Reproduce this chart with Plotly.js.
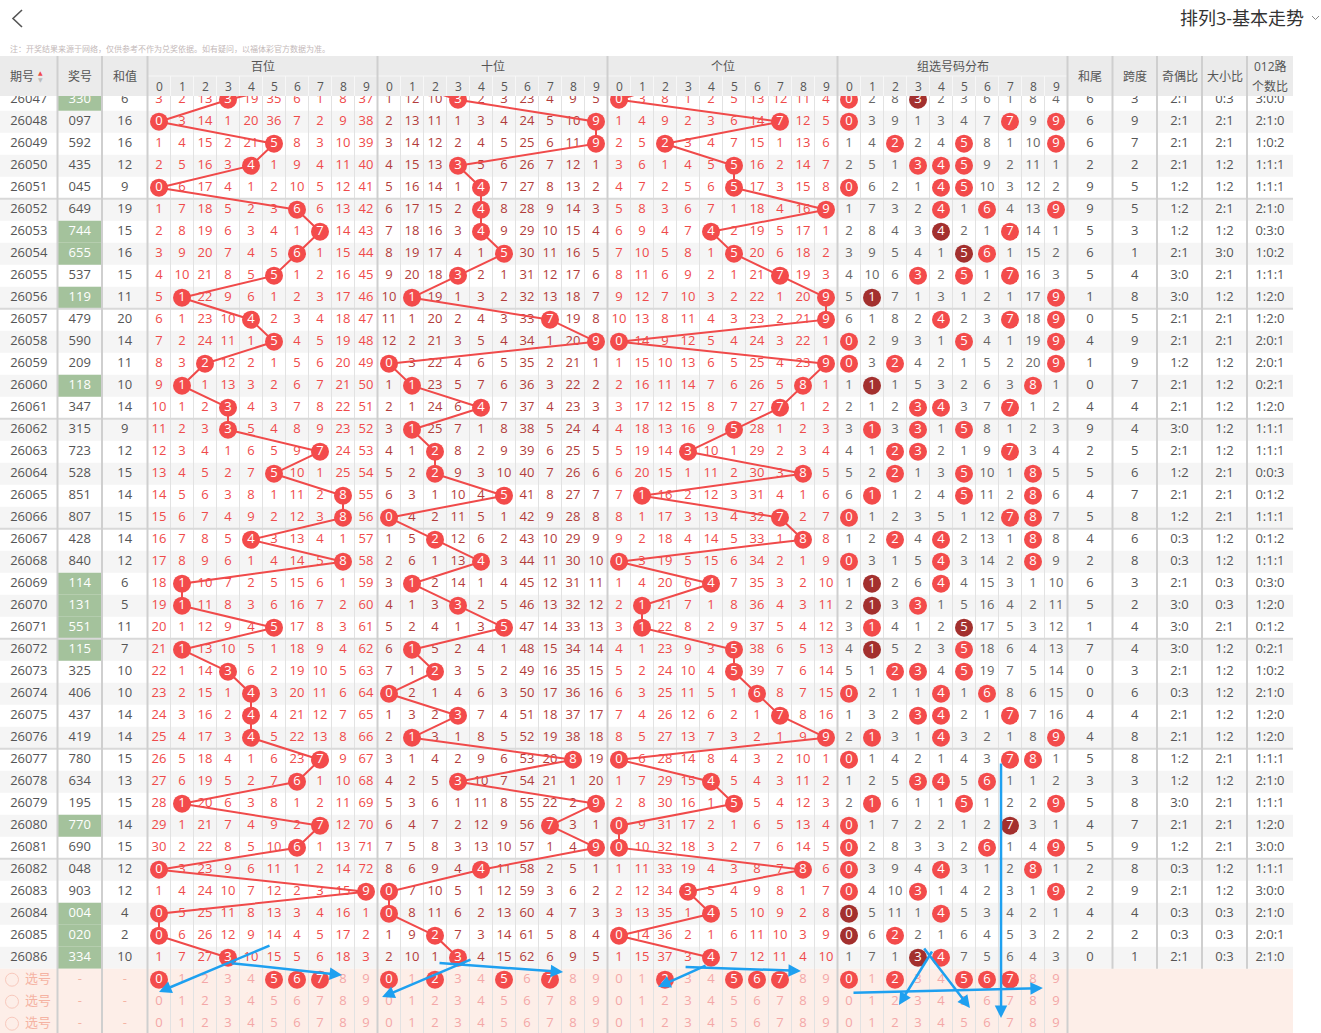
<!DOCTYPE html>
<html><head><meta charset="utf-8">
<script src="https://cdn.plot.ly/plotly-3.0.1.min.js"></script>
<style>html,body{margin:0;padding:0;background:#fff;overflow:hidden}#chart{width:1321px;height:1033px}</style>
</head><body><div id="chart"></div>
<script>
// ---------------- DATA ----------------
const periods=[26047,26048,26049,26050,26051,26052,26053,26054,26055,26056,26057,26058,26059,26060,26061,26062,26063,26064,26065,26066,26067,26068,26069,26070,26071,26072,26073,26074,26075,26076,26077,26078,26079,26080,26081,26082,26083,26084,26085,26086];
const draws=["330","097","592","435","045","649","744","655","537","119","479","590","209","118","347","315","723","528","851","807","428","840","114","131","551","115","325","406","437","419","780","634","195","770","690","048","903","004","020","334"];
const prevDraw="703";
const sums=[6,16,16,12,9,19,15,16,15,11,20,14,11,10,14,9,12,15,14,15,14,12,6,5,11,7,10,10,14,14,15,13,15,14,15,12,12,4,2,10];
const baiOmit=[
[3,2,13,0,19,35,6,1,8,37],[0,3,14,1,20,36,7,2,9,38],[1,4,15,2,21,0,8,3,10,39],[2,5,16,3,0,1,9,4,11,40],[0,6,17,4,1,2,10,5,12,41],
[1,7,18,5,2,3,0,6,13,42],[2,8,19,6,3,4,1,0,14,43],[3,9,20,7,4,5,0,1,15,44],[4,10,21,8,5,0,1,2,16,45],[5,0,22,9,6,1,2,3,17,46],
[6,1,23,10,0,2,3,4,18,47],[7,2,24,11,1,0,4,5,19,48],[8,3,0,12,2,1,5,6,20,49],[9,0,1,13,3,2,6,7,21,50],[10,1,2,0,4,3,7,8,22,51],
[11,2,3,0,5,4,8,9,23,52],[12,3,4,1,6,5,9,0,24,53],[13,4,5,2,7,0,10,1,25,54],[14,5,6,3,8,1,11,2,0,55],[15,6,7,4,9,2,12,3,0,56],
[16,7,8,5,0,3,13,4,1,57],[17,8,9,6,1,4,14,5,0,58],[18,0,10,7,2,5,15,6,1,59],[19,0,11,8,3,6,16,7,2,60],[20,1,12,9,4,0,17,8,3,61],
[21,0,13,10,5,1,18,9,4,62],[22,1,14,0,6,2,19,10,5,63],[23,2,15,1,0,3,20,11,6,64],[24,3,16,2,0,4,21,12,7,65],[25,4,17,3,0,5,22,13,8,66],
[26,5,18,4,1,6,23,0,9,67],[27,6,19,5,2,7,0,1,10,68],[28,0,20,6,3,8,1,2,11,69],[29,1,21,7,4,9,2,0,12,70],[30,2,22,8,5,10,0,1,13,71],
[0,3,23,9,6,11,1,2,14,72],[1,4,24,10,7,12,2,3,15,0],[0,5,25,11,8,13,3,4,16,1],[0,6,26,12,9,14,4,5,17,2],[1,7,27,0,10,15,5,6,18,3]];
const shiOmit=[
[1,12,10,0,2,3,23,4,9,5],[2,13,11,1,3,4,24,5,10,0],[3,14,12,2,4,5,25,6,11,0],[4,15,13,0,5,6,26,7,12,1],[5,16,14,1,0,7,27,8,13,2],
[6,17,15,2,0,8,28,9,14,3],[7,18,16,3,0,9,29,10,15,4],[8,19,17,4,1,0,30,11,16,5],[9,20,18,0,2,1,31,12,17,6],[10,0,19,1,3,2,32,13,18,7],
[11,1,20,2,4,3,33,0,19,8],[12,2,21,3,5,4,34,1,20,0],[0,3,22,4,6,5,35,2,21,1],[1,0,23,5,7,6,36,3,22,2],[2,1,24,6,0,7,37,4,23,3],
[3,0,25,7,1,8,38,5,24,4],[4,1,0,8,2,9,39,6,25,5],[5,2,0,9,3,10,40,7,26,6],[6,3,1,10,4,0,41,8,27,7],[0,4,2,11,5,1,42,9,28,8],
[1,5,0,12,6,2,43,10,29,9],[2,6,1,13,0,3,44,11,30,10],[3,0,2,14,1,4,45,12,31,11],[4,1,3,0,2,5,46,13,32,12],[5,2,4,1,3,0,47,14,33,13],
[6,0,5,2,4,1,48,15,34,14],[7,1,0,3,5,2,49,16,35,15],[0,2,1,4,6,3,50,17,36,16],[1,3,2,0,7,4,51,18,37,17],[2,0,3,1,8,5,52,19,38,18],
[3,1,4,2,9,6,53,20,0,19],[4,2,5,0,10,7,54,21,1,20],[5,3,6,1,11,8,55,22,2,0],[6,4,7,2,12,9,56,0,3,1],[7,5,8,3,13,10,57,1,4,0],
[8,6,9,4,0,11,58,2,5,1],[0,7,10,5,1,12,59,3,6,2],[0,8,11,6,2,13,60,4,7,3],[1,9,0,7,3,14,61,5,8,4],[2,10,1,0,4,15,62,6,9,5]];
const geOmit=[
[0,3,8,1,2,5,13,12,11,4],[1,4,9,2,3,6,14,0,12,5],[2,5,0,3,4,7,15,1,13,6],[3,6,1,4,5,0,16,2,14,7],[4,7,2,5,6,0,17,3,15,8],
[5,8,3,6,7,1,18,4,16,0],[6,9,4,7,0,2,19,5,17,1],[7,10,5,8,1,0,20,6,18,2],[8,11,6,9,2,1,21,0,19,3],[9,12,7,10,3,2,22,1,20,0],
[10,13,8,11,4,3,23,2,21,0],[0,14,9,12,5,4,24,3,22,1],[1,15,10,13,6,5,25,4,23,0],[2,16,11,14,7,6,26,5,0,1],[3,17,12,15,8,7,27,0,1,2],
[4,18,13,16,9,0,28,1,2,3],[5,19,14,0,10,1,29,2,3,4],[6,20,15,1,11,2,30,3,0,5],[7,0,16,2,12,3,31,4,1,6],[8,1,17,3,13,4,32,0,2,7],
[9,2,18,4,14,5,33,1,0,8],[0,3,19,5,15,6,34,2,1,9],[1,4,20,6,0,7,35,3,2,10],[2,0,21,7,1,8,36,4,3,11],[3,0,22,8,2,9,37,5,4,12],
[4,1,23,9,3,0,38,6,5,13],[5,2,24,10,4,0,39,7,6,14],[6,3,25,11,5,1,0,8,7,15],[7,4,26,12,6,2,1,0,8,16],[8,5,27,13,7,3,2,1,9,0],
[0,6,28,14,8,4,3,2,10,1],[1,7,29,15,0,5,4,3,11,2],[2,8,30,16,1,0,5,4,12,3],[0,9,31,17,2,1,6,5,13,4],[0,10,32,18,3,2,7,6,14,5],
[1,11,33,19,4,3,8,7,0,6],[2,12,34,0,5,4,9,8,1,7],[3,13,35,1,0,5,10,9,2,8],[0,14,36,2,1,6,11,10,3,9],[1,15,37,3,0,7,12,11,4,10]];
const zuOmit=[
[0,2,8,0,2,3,6,1,8,4],[0,3,9,1,3,4,7,0,9,0],[1,4,0,2,4,0,8,1,10,0],[2,5,1,0,0,0,9,2,11,1],[0,6,2,1,0,0,10,3,12,2],
[1,7,3,2,0,1,0,4,13,0],[2,8,4,3,0,2,1,0,14,1],[3,9,5,4,1,0,0,1,15,2],[4,10,6,0,2,0,1,0,16,3],[5,0,7,1,3,1,2,1,17,0],
[6,1,8,2,0,2,3,0,18,0],[0,2,9,3,1,0,4,1,19,0],[0,3,0,4,2,1,5,2,20,0],[1,0,1,5,3,2,6,3,0,1],[2,1,2,0,0,3,7,0,1,2],
[3,0,3,0,1,0,8,1,2,3],[4,1,0,0,2,1,9,0,3,4],[5,2,0,1,3,0,10,1,0,5],[6,0,1,2,4,0,11,2,0,6],[0,1,2,3,5,1,12,0,0,7],
[1,2,0,4,0,2,13,1,0,8],[0,3,1,5,0,3,14,2,0,9],[1,0,2,6,0,4,15,3,1,10],[2,0,3,0,1,5,16,4,2,11],[3,0,4,1,2,0,17,5,3,12],
[4,0,5,2,3,0,18,6,4,13],[5,1,0,0,4,0,19,7,5,14],[0,2,1,1,0,1,0,8,6,15],[1,3,2,0,0,2,1,0,7,16],[2,0,3,1,0,3,2,1,8,0],
[0,1,4,2,1,4,3,0,0,1],[1,2,5,0,0,5,0,1,1,2],[2,0,6,1,1,0,1,2,2,0],[0,1,7,2,2,1,2,0,3,1],[0,2,8,3,3,2,0,1,4,0],
[0,3,9,4,0,3,1,2,0,1],[0,4,10,0,1,4,2,3,1,0],[0,5,11,1,0,5,3,4,2,1],[0,6,0,2,1,6,4,5,3,2],[1,7,1,0,0,7,5,6,4,3]];
const sumTails=[6,6,6,2,9,9,5,6,5,1,0,4,1,0,4,9,2,5,4,5,4,2,6,5,1,7,0,0,4,4,5,3,5,4,5,2,2,4,2,0];
const spans=[3,9,7,2,5,5,3,1,4,8,5,9,9,7,4,4,5,6,7,8,6,8,3,2,4,4,3,6,4,8,8,3,8,7,9,8,9,4,2,1];
const oddEven=["2:1","2:1","2:1","2:1","1:2","1:2","1:2","2:1","3:0","3:0","2:1","2:1","1:2","2:1","2:1","3:0","2:1","1:2","2:1","1:2","0:3","0:3","2:1","3:0","3:0","3:0","2:1","0:3","2:1","2:1","1:2","1:2","3:0","2:1","1:2","0:3","2:1","0:3","0:3","2:1"];
const bigSmall=["0:3","2:1","2:1","1:2","1:2","2:1","1:2","3:0","2:1","1:2","2:1","2:1","1:2","1:2","1:2","1:2","1:2","2:1","2:1","2:1","1:2","1:2","0:3","0:3","2:1","1:2","1:2","1:2","1:2","1:2","2:1","1:2","2:1","2:1","2:1","1:2","1:2","0:3","0:3","0:3"];
const road012=["3:0:0","2:1:0","1:0:2","1:1:1","1:1:1","2:1:0","0:3:0","1:0:2","1:1:1","1:2:0","1:2:0","2:0:1","2:0:1","0:2:1","1:2:0","1:1:1","1:1:1","0:0:3","0:1:2","1:1:1","0:1:2","1:1:1","0:3:0","1:2:0","0:1:2","0:2:1","1:0:2","2:1:0","1:2:0","1:2:0","1:1:1","2:1:0","1:1:1","1:2:0","3:0:0","1:1:1","3:0:0","2:1:0","2:0:1","2:1:0"];
const selBai=[0,5,6,7], selShi=[0,2,5,7], selGe=[2,5,6,7], selZu=[0,2,5,6,7];
const groupTitles=["百位","十位","个位","组选号码分布"];
const leftTitles=["期号","奖号","和值"];
const rightTitles=["和尾","跨度","奇偶比","大小比"];
const digitLabels=[0,1,2,3,4,5,6,7,8,9];
const selLabel="选号";
const pageTitle="排列3-基本走势";
const notice="注：开奖结果来源于网络，仅供参考不作为兑奖依据。如有疑问，以福体彩官方数据为准。";
// blue hand-drawn arrows, in grid units [tailCol, tailRow, headCol, headRow]
const arrows=[[5.37,38.42,0.5,40.56],[3.59,39.24,8.46,39.79],[14.11,39.06,10.2,40.79],[12.63,39.24,18.07,39.65],
[24.33,39.33,22.2,40.33],[23.33,39.42,28.41,39.6],[30.63,40.6,38.93,40.38],[34.15,38.65,32.67,41.15],
[33.72,38.51,35.76,41.29],[37.11,30.1,37.11,41.74]];

// ---------------- GEOMETRY ----------------
const W=1321,H=1033,ROW0=99.7,ROWH=22,DIG0=147.5,DIGW=23,TABLE_R=1293,HEAD_T=56,HEAD_M=76,HEAD_B=96;
const leftEdges=[0,57.5,102,147.5];
const rightEdges=[1067.5,1112.5,1157,1202,1247,1293];
const ry=i=>ROW0+i*ROWH;
const dx=(s,d)=>DIG0+DIGW*(s*10+d)+DIGW/2;
const gx=c=>DIG0+DIGW*c;
const lx=c=>(leftEdges[c]+leftEdges[c+1])/2;
const rx=c=>(rightEdges[c]+rightEdges[c+1])/2;
const RED='#f34b4b',DARK='#a3302e',GRAY='#555',PINK='#f4a7a7',SELPINK='#f5b3a3',LINE_RED='#f04a4a';
const SEC_TXT=['#ef4a4a','#b23c3a','#ef4a4a','#666'];
const FONT='"Open Sans","Noto Sans CJK SC",sans-serif';
const isPair=d=>new Set(d.split('')).size<3;
const N=periods.length;

// ---------------- SHAPES ----------------
const shapes=[];
const rect=(x0,x1,y0,y1,fill,layer)=>shapes.push({type:'rect',xref:'x',yref:'y',x0,x1,y0,y1,fillcolor:fill,line:{width:0},layer:layer||'below'});
const line=(x0,y0,x1,y1,color,width,layer)=>shapes.push({type:'line',xref:'x',yref:'y',x0,y0,x1,y1,line:{color,width},layer:layer||'below'});
periods.forEach((p,i)=>{ if(i%2===1) rect(0,TABLE_R,ry(i)-ROWH/2,ry(i)+ROWH/2,'#f5f5f5'); });
draws.forEach((d,i)=>{ if(isPair(d)) rect(leftEdges[1]+0.5,leftEdges[2]-0.5,ry(i)-ROWH/2,ry(i)+ROWH/2,'#a4c29c'); });
rect(0,TABLE_R,ry(N)-ROWH/2,H,'#fdeee8');
for(let k=1;k<40;k++){ if(k%10) line(gx(k),HEAD_B,gx(k),H,'#e2e2e2',1); }
for(let i=4;i<N-1;i+=5) line(0,ry(i)+ROWH/2,TABLE_R,ry(i)+ROWH/2,'#d9d9d9',2);
[leftEdges[1],leftEdges[2],leftEdges[3],gx(10),gx(20),gx(30),gx(40)].forEach(x=>line(x,HEAD_B,x,H,'#cfcfcf',2));
rightEdges.slice(1,5).forEach(x=>line(x,HEAD_B,x,ry(N)-ROWH/2,'#cfcfcf',2));
// header (above data so first row is partly hidden)
rect(0,TABLE_R,HEAD_T,HEAD_B,'#ebebeb','above');
line(DIG0,HEAD_M,gx(40),HEAD_M,'#f7f7f7',1,'above');
for(let k=1;k<40;k++){ if(k%10) line(gx(k),HEAD_M,gx(k),HEAD_B,'#f7f7f7',1,'above'); }
[leftEdges[1],leftEdges[2],leftEdges[3],gx(10),gx(20),gx(30),gx(40),...rightEdges.slice(1,5)].forEach(x=>line(x,HEAD_T,x,HEAD_B,'#cfcfcf',2,'above'));
// back chevron and dropdown chevron
shapes.push({type:'path',xref:'x',yref:'y',path:'M22,10 L13,18.5 L22,27',line:{color:'#555',width:1.6},layer:'above'});
shapes.push({type:'path',xref:'x',yref:'y',path:'M1312,16 L1315.5,19.5 L1319,16',line:{color:'#888',width:1},layer:'above'});

// ---------------- TEXT + MARKS ----------------
const T={x:[],y:[],text:[],color:[]};
const addT=(x,y,t,c)=>{T.x.push(x);T.y.push(y);T.text.push(String(t));T.color.push(c);};
const C={x:[],y:[],text:[],color:[]};
const addC=(x,y,t,c)=>{C.x.push(x);C.y.push(y);C.text.push(String(t));C.color.push(c);};
const omits=[baiOmit,shiOmit,geOmit,zuOmit];
periods.forEach((p,i)=>{
  addT(lx(0),ry(i),p,GRAY);
  addT(lx(1),ry(i),draws[i],isPair(draws[i])?'#ffffff':GRAY);
  addT(lx(2),ry(i),sums[i],GRAY);
  omits.forEach((arr,s)=>arr[i].forEach((v,d)=>{
    if(v!==0) addT(dx(s,d),ry(i),v,SEC_TXT[s]);
    else{
      let col=RED;
      if(s===3){ const cnt=draws[i].split('').filter(ch=>+ch===d).length; if(cnt>=2) col=DARK; }
      addC(dx(s,d),ry(i),d,col);
    }
  }));
  [sumTails,spans,oddEven,bigSmall,road012].forEach((arr,c)=>addT(rx(c),ry(i),arr[i],GRAY));
});
// selection rows
const sels=[selBai,selShi,selGe,selZu];
const selMarks={x:[],y:[]};
for(let r=0;r<3;r++){
  const y=ry(N+r);
  selMarks.x.push(12); selMarks.y.push(y);
  addT(38,y,selLabel,SELPINK);
  addT(lx(1),y,'-',SELPINK); addT(lx(2),y,'-',SELPINK);
  sels.forEach((sel,s)=>digitLabels.forEach(d=>{
    if(r===0 && sel.includes(d)) addC(dx(s,d),y,d,RED);
    else addT(dx(s,d),y,d,PINK);
  }));
}
const data=[];
data.push({type:'scatter',mode:'text',x:T.x,y:T.y,text:T.text,textposition:'middle center',
  textfont:{family:FONT,size:13,color:T.color},hoverinfo:'skip',cliponaxis:false});
data.push({type:'scatter',mode:'markers',x:selMarks.x,y:selMarks.y,marker:{symbol:'circle-open',size:13,color:'#f8c9bd',line:{width:1}},hoverinfo:'skip'});
for(let s=0;s<3;s++){
  const all=[prevDraw,...draws];
  data.push({type:'scatter',mode:'lines',x:all.map(d=>dx(s,+d[s])),y:all.map((d,k)=>ry(k-1)),
    line:{color:LINE_RED,width:2},hoverinfo:'skip'});
}
data.push({type:'scatter',mode:'markers+text',x:C.x,y:C.y,text:C.text,textposition:'middle center',
  marker:{size:18,color:C.color,line:{width:0}},textfont:{family:FONT,size:13,color:'#ffffff'},hoverinfo:'skip'});

// ---------------- ANNOTATIONS ----------------
const ann=[];
const A=(x,y,text,opts)=>ann.push(Object.assign({xref:'x',yref:'y',x,y,text,showarrow:false,font:{family:FONT,size:12,color:GRAY}},opts||{}));
A(lx(0)-7,(HEAD_T+HEAD_B)/2,leftTitles[0]);
A(40,72.5,'▲',{font:{family:'DejaVu Sans',size:6,color:'#f04a4a'}});
A(40,79.5,'▼',{font:{family:'DejaVu Sans',size:6,color:'#bbbbbb'}});
A(lx(1),(HEAD_T+HEAD_B)/2,leftTitles[1]);
A(lx(2),(HEAD_T+HEAD_B)/2,leftTitles[2]);
groupTitles.forEach((t,s)=>{
  A(gx(s*10+5),(HEAD_T+HEAD_M)/2,t);
  digitLabels.forEach(d=>A(dx(s,d),(HEAD_M+HEAD_B)/2,String(d)));
});
rightTitles.forEach((t,c)=>A(rx(c),(HEAD_T+HEAD_B)/2,t));
A(rx(4),(HEAD_T+HEAD_M)/2,'012路');
A(rx(4),(HEAD_M+HEAD_B)/2,'个数比');
A(1306,18,pageTitle,{xanchor:'right',font:{family:FONT,size:18,color:'#333'}});
A(8,48,notice,{xanchor:'left',font:{family:FONT,size:8,color:'#c4b9b9'}});
arrows.forEach(a=>ann.push({xref:'x',yref:'y',axref:'x',ayref:'y',x:gx(a[2]),y:ry(a[3]),ax:gx(a[0]),ay:ry(a[1]),
  text:'',showarrow:true,arrowhead:2,arrowsize:1,arrowwidth:2.5,arrowcolor:'#1ea0f0',standoff:0,startstandoff:0}));

const layout={width:W,height:H,margin:{l:0,r:0,t:0,b:0,pad:0},paper_bgcolor:'#fff',plot_bgcolor:'#fff',
  showlegend:false,hovermode:false,font:{family:FONT},
  xaxis:{range:[0,W],visible:false,fixedrange:true,showgrid:false,zeroline:false},
  yaxis:{range:[H,0],visible:false,fixedrange:true,showgrid:false,zeroline:false},
  shapes,annotations:ann};
Plotly.newPlot('chart',data,layout,{staticPlot:true,displayModeBar:false});
</script></body></html>
